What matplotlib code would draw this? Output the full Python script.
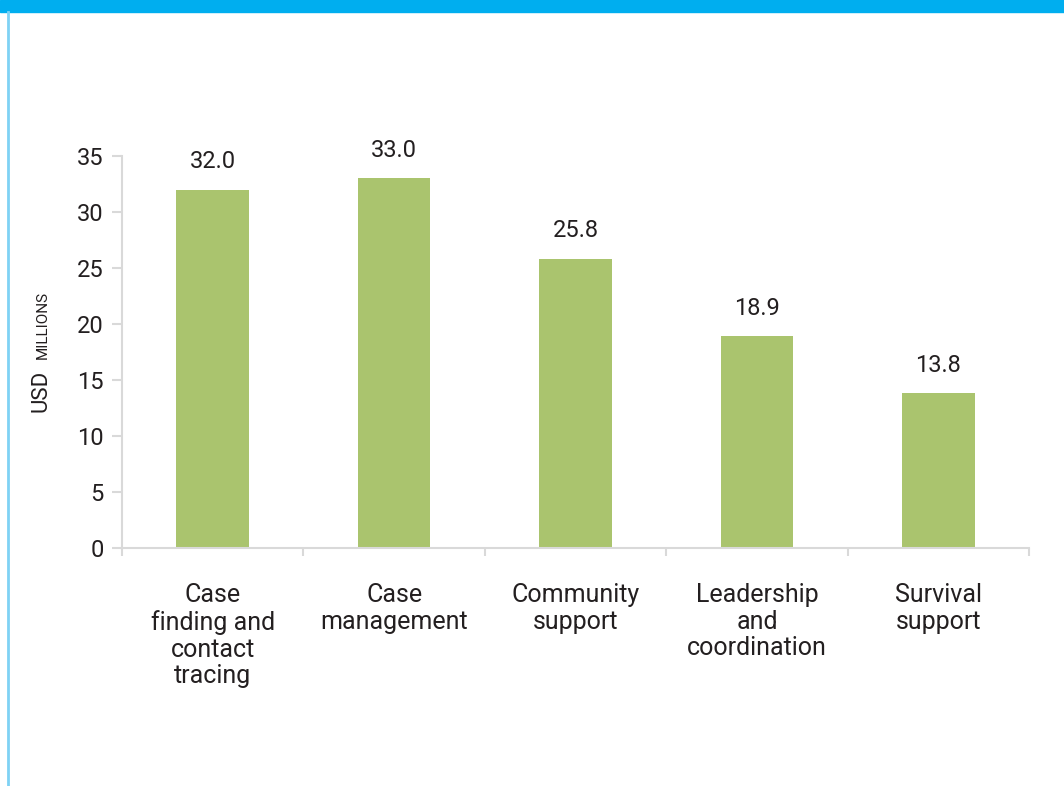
import matplotlib.pyplot as plt
from matplotlib.patches import Rectangle
from matplotlib.lines import Line2D

categories = ["Case\nfinding and\ncontact\ntracing", "Case\nmanagement",
              "Community\nsupport", "Leadership\nand\ncoordination",
              "Survival\nsupport"]
values = [32.0, 33.0, 25.8, 18.9, 13.8]
yticks = [0, 5, 10, 15, 20, 25, 30, 35]

bar_color = "#aac46e"
text_color = "#231f20"
axis_color = "#d9d9d9"

plt.rcParams['font.family'] = ['Roboto', 'DejaVu Sans']

fig = plt.figure(figsize=(10.64, 7.86), dpi=100)

# blue header band and left rule
fig.patches.append(Rectangle((0, 1 - 12 / 786), 1, 12 / 786, transform=fig.transFigure,
                             color="#00aeef", zorder=0))
fig.lines.append(Line2D([7.5 / 1064, 7.5 / 1064], [0, 1 - 12 / 786], transform=fig.transFigure,
                        color="#7fd2f4", lw=2))

ax = fig.add_axes([122 / 1064, 1 - 548 / 786, (1029 - 122) / 1064, (548 - 156) / 786])
x = list(range(len(values)))
ax.bar(x, values, width=0.4, color=bar_color, zorder=2)

for xi, v in zip(x, values):
    ax.annotate(f"{v:.1f}", (xi, v), xytext=(0, 12), textcoords="offset points",
                ha="center", va="bottom", fontsize=17, color=text_color)

ax.set_xlim(-0.5, len(values) - 0.5)
ax.set_ylim(0, 35)
ax.set_yticks(yticks)
ax.tick_params(axis="y", length=7, width=1.5, color=axis_color, labelsize=17,
               labelcolor=text_color, pad=6)

ax.set_xticks(x)
ax.set_xticklabels(categories, linespacing=1.15)
ax.tick_params(axis="x", length=0, labelsize=18, labelcolor=text_color, pad=25)
ax.set_xticks([i - 0.5 for i in range(len(values) + 1)], minor=True)
ax.tick_params(axis="x", which="minor", length=6, width=1.5, color=axis_color)

for side in ["top", "right"]:
    ax.spines[side].set_visible(False)
for side in ["left", "bottom"]:
    ax.spines[side].set_color(axis_color)
    ax.spines[side].set_linewidth(1.5)

# axis title with small-caps "millions", both sharing one baseline
fig.text(47 / 1064, 1 - 391 / 786, "USD", rotation=90, rotation_mode="anchor",
         ha="center", va="baseline", fontsize=16, color=text_color)
fig.text(47 / 1064, 1 - 325 / 786, "MILLIONS", rotation=90, rotation_mode="anchor",
         ha="center", va="baseline", fontsize=11, color=text_color)

fig.savefig("out.png", dpi=100)
